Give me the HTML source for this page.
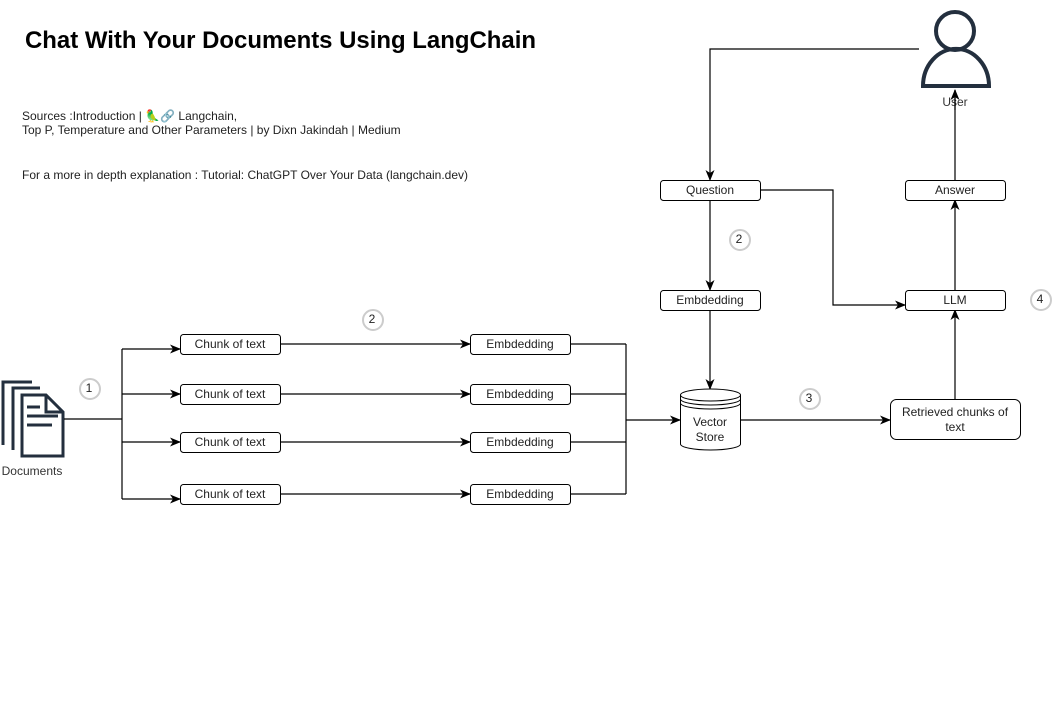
<!DOCTYPE html>
<html><head><meta charset="utf-8"><style>html,body{margin:0;padding:0;background:#fff}svg{display:block}</style></head>
<body>
<svg width="1063" height="711" viewBox="0 0 1063 711" xmlns="http://www.w3.org/2000/svg" font-family="Liberation Sans, Arial, sans-serif">
<defs>
<marker id="a" markerWidth="11" markerHeight="11" refX="10" refY="5.5" orient="auto" markerUnits="userSpaceOnUse">
<path d="M0,1 L11,5.5 L0,10 L3,5.5 Z" fill="#000"/></marker>
</defs>
<rect width="1063" height="711" fill="#fff"/>
<text x="25" y="48" font-size="24" font-weight="bold" textLength="511" lengthAdjust="spacingAndGlyphs" fill="#000">Chat With Your Documents Using LangChain</text>
<g font-size="12" fill="#222">
<text x="22" y="120">Sources :Introduction | <tspan fill="#e0307a">🦜</tspan><tspan fill="#999">🔗</tspan> Langchain,</text>
<text x="22" y="134">Top P, Temperature and Other Parameters | by Dixn Jakindah | Medium</text>
<text x="22" y="179">For a more in depth explanation : Tutorial: ChatGPT Over Your Data (langchain.dev)</text>
</g>
<g fill="none" stroke="#232f3e" stroke-width="3">
<path d="M3,445 V382 H32"/>
<path d="M13,450 V388 H40"/>
<path d="M22,456 V395 H46 L63,412 V456 Z"/>
<path d="M46,395 V412 H63"/>
<path d="M27,407 H40 M27,416 H58 M27,425 H52"/>
</g>
<text x="32" y="475" font-size="12" fill="#333" text-anchor="middle">Documents</text>
<g fill="none" stroke="#000" stroke-width="1.2">
<path d="M64,419 H122 M122,349 V499"/>
<path d="M122,349 H180" marker-end="url(#a)"/>
<path d="M122,394 H180" marker-end="url(#a)"/>
<path d="M122,442 H180" marker-end="url(#a)"/>
<path d="M122,499 H180" marker-end="url(#a)"/>
<path d="M280,344 H470" marker-end="url(#a)"/>
<path d="M280,394 H470" marker-end="url(#a)"/>
<path d="M280,442 H470" marker-end="url(#a)"/>
<path d="M280,494 H470" marker-end="url(#a)"/>
<path d="M570,344 H626 M570,394 H626 M570,442 H626 M570,494 H626 M626,344 V494"/>
<path d="M626,420 H680" marker-end="url(#a)"/>
<path d="M741,420 H890" marker-end="url(#a)"/>
<path d="M955,399 V310" marker-end="url(#a)"/>
<path d="M955,290 V200" marker-end="url(#a)"/>
<path d="M955,180 V90" marker-end="url(#a)"/>
<path d="M919,49 H710 V180" marker-end="url(#a)"/>
<path d="M710,200 V290" marker-end="url(#a)"/>
<path d="M710,310 V389" marker-end="url(#a)"/>
<path d="M760,190 H833 V305 H905" marker-end="url(#a)"/>
</g>
<g fill="#fff" stroke="#000" stroke-width="1" font-size="12">
<rect x="180.5" y="334.5" width="100" height="20" rx="3"/>
<rect x="180.5" y="384.5" width="100" height="20" rx="3"/>
<rect x="180.5" y="432.5" width="100" height="20" rx="3"/>
<rect x="180.5" y="484.5" width="100" height="20" rx="3"/>
<rect x="470.5" y="334.5" width="100" height="20" rx="3"/>
<rect x="470.5" y="384.5" width="100" height="20" rx="3"/>
<rect x="470.5" y="432.5" width="100" height="20" rx="3"/>
<rect x="470.5" y="484.5" width="100" height="20" rx="3"/>
<rect x="660.5" y="180.5" width="100" height="20" rx="3"/>
<rect x="660.5" y="290.5" width="100" height="20" rx="3"/>
<rect x="905.5" y="180.5" width="100" height="20" rx="3"/>
<rect x="905.5" y="290.5" width="100" height="20" rx="3"/>
<rect x="890.5" y="399.5" width="130" height="40" rx="6"/>
<path d="M680.5,395 V444 A30,6 0 0 0 740.5,444 V395 A30,6 0 0 0 680.5,395 Z"/>
<path d="M680.5,395 A30,6 0 0 0 740.5,395 M680.5,399 A30,6 0 0 0 740.5,399 M680.5,403 A30,6 0 0 0 740.5,403" fill="none"/>
</g>
<g font-size="12" fill="#222" text-anchor="middle">
<text x="230" y="348">Chunk of text</text>
<text x="230" y="398">Chunk of text</text>
<text x="230" y="446">Chunk of text</text>
<text x="230" y="498">Chunk of text</text>
<text x="520" y="348">Embdedding</text>
<text x="520" y="398">Embdedding</text>
<text x="520" y="446">Embdedding</text>
<text x="520" y="498">Embdedding</text>
<text x="710" y="194">Question</text>
<text x="710" y="304">Embdedding</text>
<text x="955" y="194">Answer</text>
<text x="955" y="304">LLM</text>
<text x="955" y="416">Retrieved chunks of</text>
<text x="955" y="431">text</text>
<text x="710" y="426">Vector</text>
<text x="710" y="441">Store</text>
<text x="955" y="106" fill="#333">User</text>
</g>
<g fill="none" stroke="#232f3e" stroke-width="4">
<circle cx="955" cy="31" r="19"/>
<path d="M923,86 A32,36 0 0 1 989,86 Z"/>
</g>
<path d="M955,90 V110" stroke="#000" stroke-width="1.2"/>
<g fill="#fff" stroke="#ccc" stroke-width="2" font-size="12">
<circle cx="90" cy="389" r="10"/>
<circle cx="373" cy="320" r="10"/>
<circle cx="740" cy="240" r="10"/>
<circle cx="810" cy="399" r="10"/>
<circle cx="1041" cy="300" r="10"/>
</g>
<g font-size="12" fill="#222" text-anchor="middle">
<text x="89" y="392">1</text>
<text x="372" y="323">2</text>
<text x="739" y="243">2</text>
<text x="809" y="402">3</text>
<text x="1040" y="303">4</text>
</g>
</svg>
</body></html>
